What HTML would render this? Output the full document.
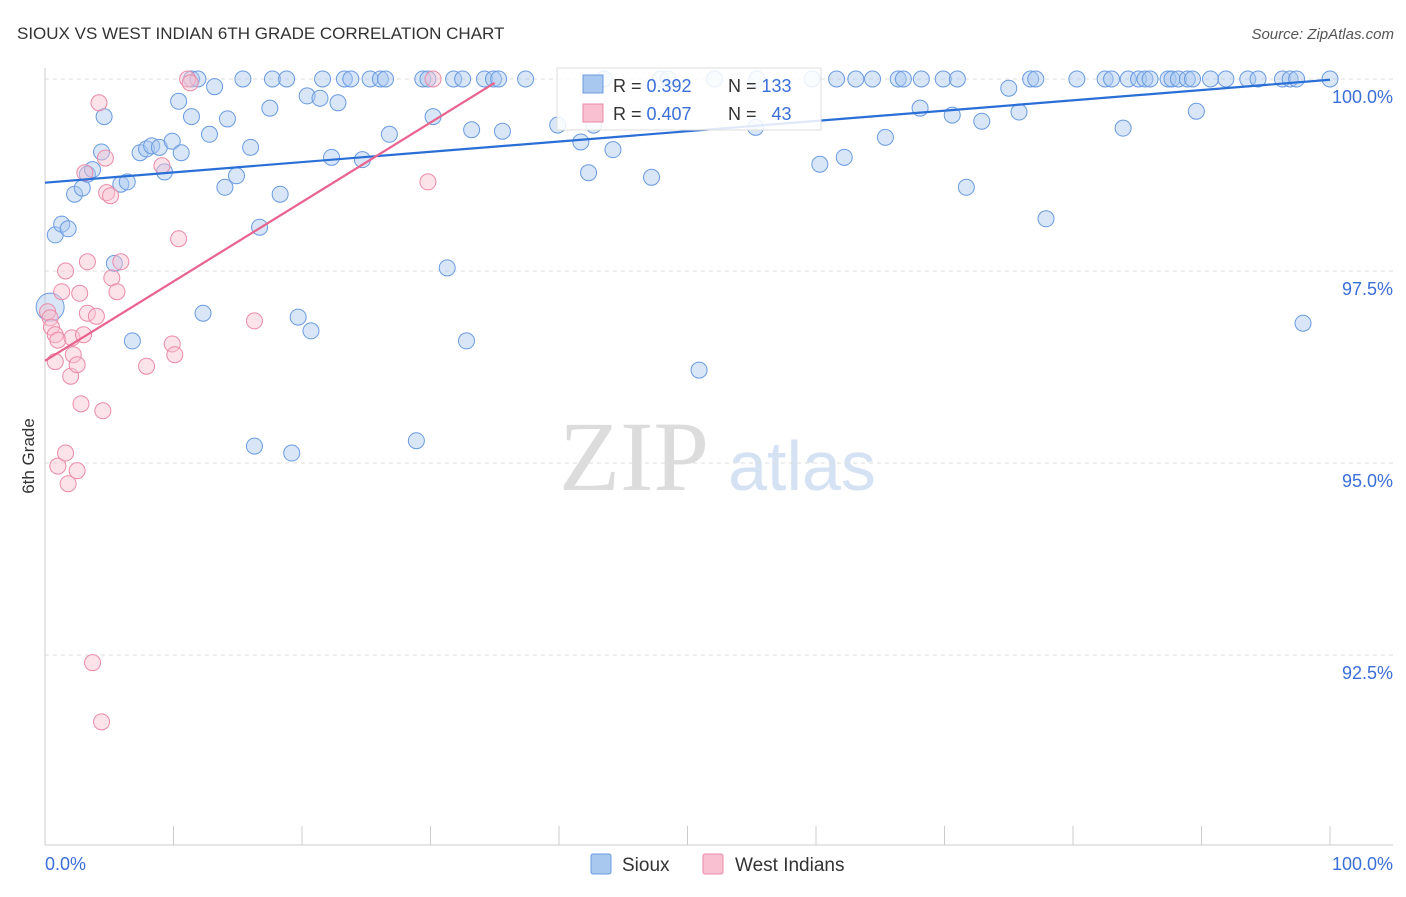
<!DOCTYPE html>
<html><head><meta charset="utf-8"><style>
body{margin:0;background:#fff;font-family:"Liberation Sans",sans-serif}
</style></head><body>
<svg id="chart" width="1406" height="892" xmlns="http://www.w3.org/2000/svg" style="font-family:'Liberation Sans',sans-serif">
<text x="17" y="39" font-size="17" fill="#333">SIOUX VS WEST INDIAN 6TH GRADE CORRELATION CHART</text>
<text x="1394" y="39" font-size="15" fill="#555" text-anchor="end" font-style="italic">Source: ZipAtlas.com</text>
<g>
<text x="634" y="490" font-size="100" fill="#dcdcdc" text-anchor="middle" style="font-family:'Liberation Serif',serif">ZIP</text>
<text x="802" y="490" font-size="70" fill="#d4e2f4" text-anchor="middle" style="font-family:'Liberation Sans',sans-serif">atlas</text>
</g>
<g id="grid"></g><g id="axes"></g><g id="marks"></g>
<text transform="translate(34,456) rotate(-90)" font-size="17" fill="#333" text-anchor="middle">6th Grade</text>
<text x="45" y="870" font-size="18" fill="#3a6fd8">0.0%</text>
<text x="1393" y="870" font-size="18" fill="#3a6fd8" text-anchor="end">100.0%</text>
<g>
<rect x="557" y="68" width="264" height="62" fill="#fff" fill-opacity="0.85" stroke="#ddd"/>
<rect x="583" y="75" width="20" height="18" fill="#a9c8f0" stroke="#6a9be0"/>
<rect x="583" y="104" width="20" height="18" fill="#f8c0d0" stroke="#ea8aa8"/>
<text x="613" y="92" font-size="18" fill="#333">R = <tspan fill="#3a6fd8">0.392</tspan><tspan x="728">N = </tspan><tspan fill="#3a6fd8">133</tspan></text>
<text x="613" y="120" font-size="18" fill="#333">R = <tspan fill="#3a6fd8">0.407</tspan><tspan x="728">N = </tspan><tspan fill="#3a6fd8" dx="10">43</tspan></text>
</g>
<g>
<rect x="591" y="854" width="20" height="20" fill="#a9c8f0" stroke="#6a9be0" rx="2"/>
<text x="622" y="871" font-size="19" fill="#333">Sioux</text>
<rect x="703" y="854" width="20" height="20" fill="#f8c0d0" stroke="#ea8aa8" rx="2"/>
<text x="735" y="871" font-size="19" fill="#333">West Indians</text>
</g>
</svg>
<script>
const yTicks=[100,97.5,95,92.5];
const yTickLabels=["100.0%","97.5%","95.0%","92.5%"];
const xTicks=[0,10,20,30,40,50,60,70,80,90,100];
const siouxX=[11.4,11.9,15.4,17.7,18.8,21.6,23.3,23.8,25.3,26.1,26.5,29.4,29.8,31.8,32.5,34.2,34.9,35.3,37.4,43.5,47.9,48.5,52.1,55.4,59.7,61.6,63.1,64.4,66.4,66.8,68.2,69.9,71.0,76.7,77.1,80.3,82.5,83.0,84.3,85.1,85.6,86.0,87.4,87.7,88.2,88.9,89.3,90.7,91.9,93.6,94.4,96.3,96.9,97.4,100,
0.4,0.8,1.3,1.8,2.3,2.9,3.3,3.7,4.4,4.6,5.4,5.9,6.4,6.8,7.4,7.9,8.3,8.9,9.3,9.9,10.6,10.4,11.4,12.3,12.8,13.2,14.0,14.2,14.9,16.0,16.3,16.7,17.5,18.3,19.2,19.7,20.4,20.7,21.4,22.3,22.8,24.7,26.8,28.9,30.2,31.3,32.8,33.2,35.6,39.9,41.7,42.3,42.7,44.2,47.2,50.9,55.3,60.3,62.2,65.4,68.1,70.6,71.7,72.9,75.0,75.8,77.9,83.9,89.6,97.9];
const siouxY=[100,100,100,100,100,100,100,100,100,100,100,100,100,100,100,100,100,100,100,100,100,100,100,100,100,100,100,100,100,100,100,100,100,100,100,100,100,100,100,100,100,100,100,100,100,100,100,100,100,100,100,100,100,100,100,
97.03,97.97,98.11,98.05,98.50,98.58,98.76,98.82,99.05,99.51,97.60,98.63,98.66,96.59,99.04,99.09,99.13,99.11,98.79,99.19,99.04,99.71,99.51,96.95,99.28,99.90,98.59,99.48,98.74,99.11,95.22,98.07,99.62,98.50,95.13,96.90,99.78,96.72,99.75,98.98,99.69,98.95,99.28,95.29,99.51,97.54,96.59,99.34,99.32,99.40,99.18,98.78,99.40,99.08,98.72,96.21,99.37,98.89,98.98,99.24,99.62,99.53,98.59,99.45,99.88,99.57,98.18,99.36,99.58,96.82];
const wiX=[0.2,0.4,0.5,0.8,0.8,1.0,1.0,1.3,1.6,1.6,2.0,1.8,2.1,2.2,2.5,2.5,2.7,2.8,3.0,3.1,3.3,3.3,3.7,4.0,4.2,4.5,4.4,4.7,4.8,5.1,5.2,5.6,5.9,7.9,9.1,9.9,10.1,10.4,11.1,11.3,16.3,29.8,30.2];
const wiY=[96.97,96.89,96.77,96.67,96.32,96.60,94.96,97.23,97.50,95.13,96.13,94.73,96.63,96.41,96.28,94.90,97.21,95.77,96.67,98.78,96.95,97.62,92.40,96.91,99.69,95.68,91.63,98.97,98.52,98.48,97.41,97.23,97.62,96.26,98.87,96.55,96.41,97.92,100,99.95,96.85,98.66,100];
const siouxTrend=[0,98.65,100,99.99];
const wiTrend=[0,96.33,35,99.95];
const X=v=>45+v*12.85, Y=v=>79+(100-v)*76.8;
const NS="http://www.w3.org/2000/svg";
function mk(t,a,p){const e=document.createElementNS(NS,t);for(const k in a)e.setAttribute(k,a[k]);p.appendChild(e);return e;}
const grid=document.getElementById('grid'),axes=document.getElementById('axes'),marks=document.getElementById('marks');
yTicks.forEach((v,i)=>{
 const l=mk('line',{x1:45,x2:1393,y1:Y(v),y2:Y(v),stroke:'#ddd','stroke-dasharray':'4,4'},grid);
 
 
 const t=mk('text',{x:1393,y:Y(v)+24,'font-size':18,fill:'#3a6fd8','text-anchor':'end'},grid);
 t.textContent=yTickLabels[i];
 
 
});
const ax=mk('line',{x1:45,x2:1393,y1:845,y2:845,stroke:'#ccc'},axes);


const ay=mk('line',{x1:45,x2:45,y1:68,y2:845,stroke:'#ccc'},axes);


xTicks.forEach(v=>{const t=mk('line',{x1:X(v),x2:X(v),y1:826,y2:845,stroke:'#ccc'},axes);
 
 });
siouxX.forEach((x,i)=>{const c=mk('circle',{cx:X(x),cy:Y(siouxY[i]),r:i==55?14:8,fill:'#a9c8f0','fill-opacity':0.45,stroke:'#6a9be0','stroke-width':1},marks);
 
 });
wiX.forEach((x,i)=>{const c=mk('circle',{cx:X(x),cy:Y(wiY[i]),r:8,fill:'#f8c0d0','fill-opacity':0.45,stroke:'#ea8aa8','stroke-width':1},marks);
 
 });
const t1=mk('line',{x1:X(siouxTrend[0]),y1:Y(siouxTrend[1]),x2:X(siouxTrend[2]),y2:Y(siouxTrend[3]),stroke:'#2a6fd6','stroke-width':2.2},marks);


const t2=mk('line',{x1:X(wiTrend[0]),y1:Y(wiTrend[1]),x2:X(wiTrend[2]),y2:Y(wiTrend[3]),stroke:'#e8638e','stroke-width':2.2},marks);


</script>
</body></html>
